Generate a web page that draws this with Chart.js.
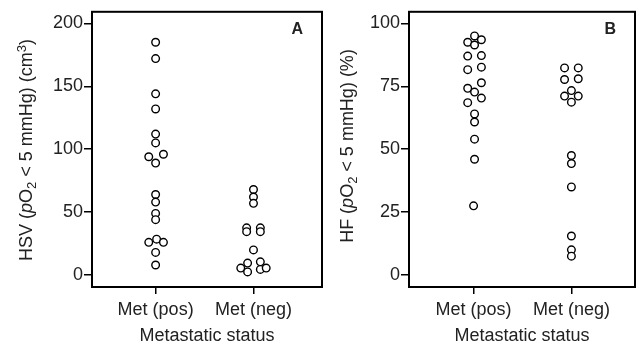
<!DOCTYPE html>
<html>
<head>
<meta charset="utf-8">
<script src="https://cdn.jsdelivr.net/npm/chart.js@4.4.1/dist/chart.umd.min.js"></script>
<style>
  body { margin: 0; background: #fff; }
  #wrap { position: relative; width: 643px; height: 347px; }
  canvas { position: absolute; top: 0; }
  #chartA { left: 0; }
  #chartB { left: 330px; }
</style>
</head>
<body>
<div id="wrap">
  <canvas id="chartA" width="330" height="347"></canvas>
  <canvas id="chartB" width="313" height="347"></canvas>
</div>
<script>
const categories = ['Met (pos)', 'Met (neg)'];
const xTitle = 'Metastatic status';

// panel A: hypoxic subvolume (cm3)
const hsvPos = [185, 172, 144, 132, 112, 105, 94, 96, 89, 64, 58, 49, 44, 26, 28.5, 26, 18, 8];
const hsvPosJitter = [0, 0, 0, 0, 0, 0, -0.07, 0.08, 0, 0, 0, 0, 0, -0.07, 0.01, 0.08, 0, 0];
const hsvNeg = [68, 62, 57, 37.5, 34.5, 37.5, 34.5, 20, 5.5, 9.5, 2.5, 10.5, 4.5, 5.5];
const hsvNegJitter = [0, 0, 0, -0.07, -0.07, 0.07, 0.07, 0, -0.13, -0.06, -0.06, 0.07, 0.07, 0.13];
const yTicksA = [0, 50, 100, 150, 200];

// panel B: hypoxic fraction (%)
const hfPos = [95, 92.5, 93.5, 91.4, 87, 87.2, 81.6, 82.6, 76.4, 74.2, 72.7, 70.3, 68.5, 64, 60.8, 54, 46, 27.5];
const hfPosJitter = [0.01, -0.06, 0.08, 0.01, -0.06, 0.08, -0.06, 0.08, 0.08, -0.06, 0.01, 0.08, -0.06, 0.01, 0.01, 0.01, 0.01, 0];
const hfNeg = [82.3, 82.3, 77.7, 78, 73.3, 71.1, 71.1, 68.7, 47.5, 44.3, 35, 15.5, 10, 7.5];
const hfNegJitter = [-0.07, 0.07, -0.07, 0.07, 0, -0.07, 0.07, 0, 0, 0, 0, 0, 0, 0];
const yTicksB = [0, 25, 50, 75, 100];

const FONT = '"Liberation Sans", Arial, Helvetica, sans-serif';
const INK = '#222';
const SIZE = 18;

function toPoints(values, jitter, cat) {
  return values.map((v, i) => ({x: cat + jitter[i], y: v}));
}

// frame, panel letter and rotated y title with sub/superscripts
const decorPlugin = {
  id: 'decor',
  afterDraw(chart, args, opts) {
    const {ctx, chartArea} = chart;
    ctx.save();
    ctx.strokeStyle = '#000';
    ctx.lineWidth = 2;
    ctx.strokeRect(chartArea.left, chartArea.top, chartArea.right - chartArea.left, chartArea.bottom - chartArea.top);

    ctx.fillStyle = INK;
    ctx.font = 'bold 16px ' + FONT;
    ctx.textAlign = 'right';
    ctx.textBaseline = 'alphabetic';
    ctx.fillText(opts.letter, chartArea.right - 19, chartArea.top + 22);

    // y title
    ctx.translate(opts.titleX, opts.titleY);
    ctx.rotate(-Math.PI / 2);
    const fontOf = s => (s.italic ? 'italic ' : '') + (s.sub || s.sup ? Math.round(SIZE * 0.7) : SIZE) + 'px ' + FONT;
    let total = 0;
    opts.segments.forEach(s => { ctx.font = fontOf(s); total += ctx.measureText(s.t).width; });
    let x = -total / 2;
    ctx.textAlign = 'left';
    ctx.textBaseline = 'middle';
    opts.segments.forEach(s => {
      ctx.font = fontOf(s);
      const dy = s.sub ? 5 : s.sup ? -5 : 0;
      ctx.fillText(s.t, x, dy);
      x += ctx.measureText(s.t).width;
    });
    ctx.restore();
  }
};

function makePanel(id, cfg) {
  const ds = (data) => ({
    data,
    showLine: false,
    pointRadius: 3.8,
    pointBorderWidth: 1.4,
    pointBorderColor: '#000',
    pointBackgroundColor: '#fff'
  });
  return new Chart(document.getElementById(id), {
    type: 'scatter',
    data: {datasets: [ds(cfg.pos), ds(cfg.neg)]},
    plugins: [decorPlugin],
    options: {
      responsive: false,
      animation: false,
      layout: {padding: {top: 11, right: 8, bottom: 0, left: 0}},
      plugins: {
        legend: {display: false},
        tooltip: {enabled: false},
        decor: {letter: cfg.letter, titleX: cfg.titleX, titleY: cfg.titleY, segments: cfg.segments}
      },
      scales: {
        x: {
          type: 'linear',
          min: cfg.xMin, max: cfg.xMax,
          afterBuildTicks: s => { s.ticks = [1, 2].map(v => ({value: v})); },
          afterFit: s => { s.height = 60; },
          ticks: {
            color: INK, font: {family: FONT, size: SIZE}, padding: 5, maxRotation: 0,
            callback: v => categories[v - 1]
          },
          grid: {drawOnChartArea: false, drawTicks: true, tickLength: 7, color: '#000', lineWidth: 1.5},
          border: {display: false},
          title: {display: true, text: xTitle, color: INK, font: {family: FONT, size: SIZE}, padding: {top: 0, bottom: 0}}
        },
        y: {
          min: cfg.yMin, max: cfg.yMax,
          afterBuildTicks: s => { s.ticks = cfg.yTicks.map(v => ({value: v})); },
          afterFit: s => { s.width = cfg.yWidth; },
          ticks: {color: INK, font: {family: FONT, size: SIZE}, padding: 1},
          grid: {drawOnChartArea: false, drawTicks: true, tickLength: 8, color: '#000', lineWidth: 1.5},
          border: {display: false}
        }
      }
    }
  });
}

makePanel('chartA', {
  pos: toPoints(hsvPos, hsvPosJitter, 1),
  neg: toPoints(hsvNeg, hsvNegJitter, 2),
  xMin: 0.35, xMax: 2.7,
  yMin: -9.5, yMax: 209.2, yTicks: yTicksA, yWidth: 92,
  letter: 'A', titleX: 27, titleY: 150,
  segments: [{t: 'HSV ('}, {t: 'p', italic: true}, {t: 'O'}, {t: '2', sub: true}, {t: ' < 5 mmHg) (cm'}, {t: '3', sup: true}, {t: ')'}]
});

makePanel('chartB', {
  pos: toPoints(hfPos, hfPosJitter, 1),
  neg: toPoints(hfNeg, hfNegJitter, 2),
  xMin: 0.34, xMax: 2.65,
  yMin: -4.76, yMax: 104.6, yTicks: yTicksB, yWidth: 79,
  letter: 'B', titleX: 18, titleY: 146,
  segments: [{t: 'HF ('}, {t: 'p', italic: true}, {t: 'O'}, {t: '2', sub: true}, {t: ' < 5 mmHg) (%)'}]
});
</script>
</body>
</html>
